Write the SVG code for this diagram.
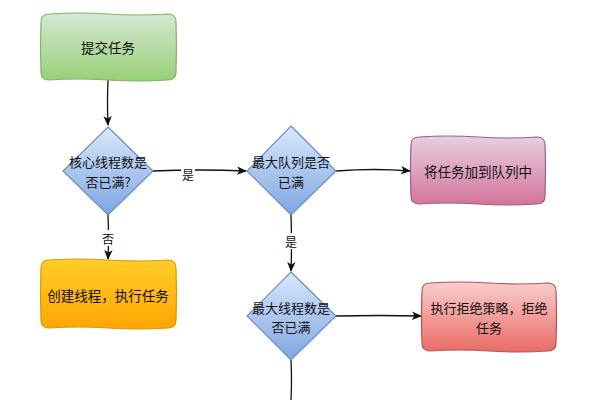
<svg xmlns="http://www.w3.org/2000/svg" width="595" height="400" viewBox="0 0 595 400">
<style>
text{font-family:"Noto Sans CJK SC","Noto Sans CJK JP",sans-serif;fill:#111;text-anchor:middle;dominant-baseline:central}
.n{font-size:13.5px}
.t{font-size:13px}
.lbl{font-size:12px}
.edge{fill:none;stroke:#111;stroke-width:1.3}
.node{stroke-width:1.2}
</style>
<defs>
<linearGradient id="gG" x1="0" y1="0" x2="0" y2="1"><stop offset="0" stop-color="#d5e8d4"/><stop offset="1" stop-color="#97d077"/></linearGradient>
<linearGradient id="gB" x1="0" y1="0" x2="0" y2="1"><stop offset="0" stop-color="#dae8fc"/><stop offset="1" stop-color="#7ea6e0"/></linearGradient>
<linearGradient id="gP" x1="0" y1="0" x2="0" y2="1"><stop offset="0" stop-color="#e6d0de"/><stop offset="1" stop-color="#d5739d"/></linearGradient>
<linearGradient id="gO" x1="0" y1="0" x2="0" y2="1"><stop offset="0" stop-color="#ffcd28"/><stop offset="1" stop-color="#ffa500"/></linearGradient>
<linearGradient id="gR" x1="0" y1="0" x2="0" y2="1"><stop offset="0" stop-color="#f8cecc"/><stop offset="1" stop-color="#ea6b66"/></linearGradient>
<marker id="arr" markerWidth="10" markerHeight="10" refX="9" refY="5" orient="auto" markerUnits="userSpaceOnUse">
<path d="M0,0.8 L10,5 L0,9.2 L2.5,5 Z" fill="#111"/>
</marker>
</defs>

<g id="connectors">
<path class="edge" d="M108,80 Q107,104 108,125" marker-end="url(#arr)"/>
<path class="edge" d="M153,171 Q200,169 246,171" marker-end="url(#arr)"/>
<path class="edge" d="M108,215 Q109,238 108,259" marker-end="url(#arr)"/>
<path class="edge" d="M336,171 Q375,168 410,171" marker-end="url(#arr)"/>
<path class="edge" d="M291,215 Q292,244 291,271" marker-end="url(#arr)"/>
<path class="edge" d="M336,316 Q380,315 421,316" marker-end="url(#arr)"/>
<path class="edge" d="M291,360 Q292,380 291,400"/>
<rect x="181" y="166" width="14" height="16" fill="#fff"/>
<text class="lbl" x="188" y="174">是</text>
<rect x="101" y="230" width="14" height="16" fill="#fff"/>
<text class="lbl" x="108" y="238">否</text>
<rect x="284" y="233" width="14" height="16" fill="#fff"/>
<text class="lbl" x="291" y="241">是</text>
</g>

<g id="submit">
<path class="node" fill="url(#gG)" stroke="#82b366" d="M49,14 Q78,12 108,14 T168,14 Q176,14 176,22 Q177,47 176,72 Q176,80 168,80 Q138,82 108,80 T49,80 Q41,80 41,72 Q40,47 41,22 Q41,14 49,14Z"/>
<text class="n" x="108" y="47">提交任务</text>
</g>

<g id="core-full">
<path class="node" fill="url(#gB)" stroke="#6c8ebf" d="M108,127 L153,171 L108,215 L63,171 Z"/>
<text class="t" x="108" y="161.5">核心线程数是</text>
<text class="t" x="108" y="181">否已满?</text>
</g>

<g id="queue-full">
<path class="node" fill="url(#gB)" stroke="#6c8ebf" d="M291,126 L336,171 L291,215 L247,171 Z"/>
<text class="t" x="291" y="161.5">最大队列是否</text>
<text class="t" x="291" y="181">已满</text>
</g>

<g id="enqueue">
<path class="node" fill="url(#gP)" stroke="#996185" d="M419,137 Q448,135 478,137 T537,137 Q545,137 545,145 Q546,170 545,196 Q545,204 537,204 Q508,206 478,204 T419,204 Q411,204 411,196 Q410,170 411,145 Q411,137 419,137Z"/>
<text class="n" x="478" y="171">将任务加到队列中</text>
</g>

<g id="create-thread">
<path class="node" fill="url(#gO)" stroke="#d79b00" d="M49,260 Q78,258 108,260 T168,260 Q176,260 176,268 Q177,294 176,320 Q176,328 168,328 Q138,330 108,328 T49,328 Q41,328 41,320 Q40,294 41,268 Q41,260 49,260Z"/>
<text class="n" x="108" y="295">创建线程，执行任务</text>
</g>

<g id="max-full">
<path class="node" fill="url(#gB)" stroke="#6c8ebf" d="M291,272 L336,316 L291,360 L247,316 Z"/>
<text class="t" x="291" y="307">最大线程数是</text>
<text class="t" x="291" y="326.5">否已满</text>
</g>

<g id="reject">
<path class="node" fill="url(#gR)" stroke="#b85450" d="M430,283 Q459,281 489,283 T548,283 Q556,283 556,291 Q557,317 556,343 Q556,351 548,351 Q519,353 489,351 T430,351 Q422,351 422,343 Q421,317 422,291 Q422,283 430,283Z"/>
<text class="t" x="489" y="307.5">执行拒绝策略，拒绝</text>
<text class="t" x="489" y="327">任务</text>
</g>
</svg>
